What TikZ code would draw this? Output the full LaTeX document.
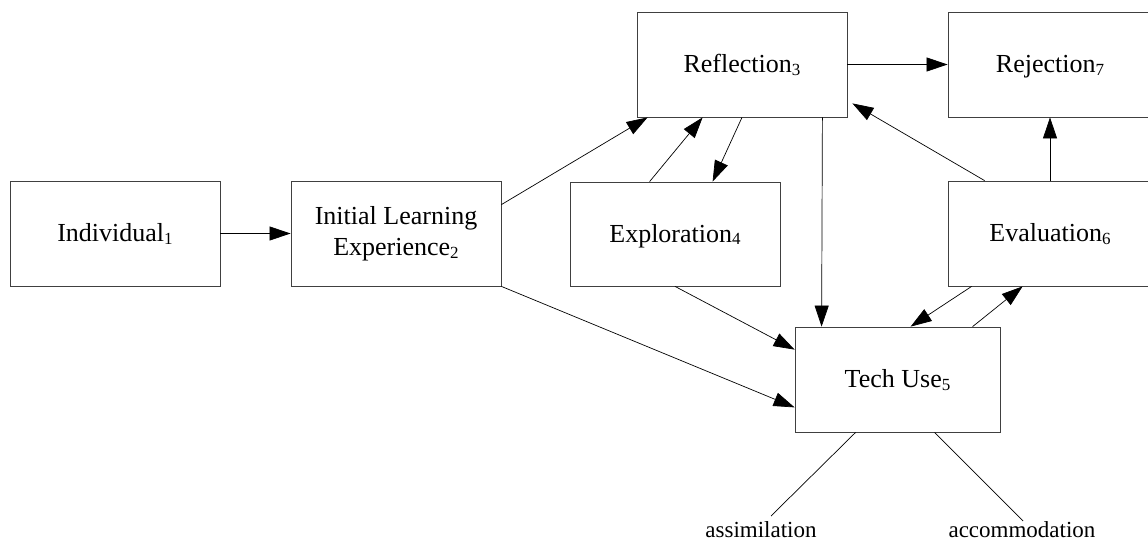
\documentclass[tikz,border=0pt]{standalone}
\usepackage{fontspec}
\setmainfont{Liberation Serif}
\usetikzlibrary{arrows.meta}
\newcommand\ix[1]{\raisebox{-0.25ex}{\fontsize{17}{17}\selectfont #1}}
\tikzset{
  box/.style={draw=black!75, line width=0.8pt, rectangle, minimum width=210pt,
              minimum height=105pt, inner sep=0pt, align=center,
              font=\fontsize{26}{31}\selectfont},
  oneline/.style={box, text height=19pt, text depth=3pt},
  link/.style={draw=black, line width=0.7pt, -{Triangle[length=21pt,width=14pt]}},
  plain/.style={draw=black, line width=0.7pt},
  tag/.style={inner sep=0pt, font=\fontsize{23}{28}\selectfont},
}
\begin{document}
\begin{tikzpicture}[x=1pt,y=-1pt]
\useasboundingbox (0,0) rectangle (1148,541);
% stage boxes
\node[oneline] (ind)  at (115,233.5)  {Individual\ix{1}};
\node[box] (ile)  at (396,233.5)  {Initial Learning\\Experience\ix{2}};
\node[oneline] (refl) at (742,64.5)   {Reflection\ix{3}};
\node[oneline, minimum width=204pt] (rej)  at (1050,64.5)  {Rejection\ix{7}};
\node[oneline, minimum height=104pt] (expl) at (675,234) {Exploration\ix{4}};
\node[oneline, minimum width=204pt] (eval) at (1050,233.5) {Evaluation\ix{6}};
\node[oneline, minimum width=205pt] (tech) at (897.5,379.5) {Tech Use\ix{5}};
% outcome labels
\node[tag, anchor=base] (assim) at (761,537)  {assimilation};
\node[tag, anchor=base] (accom) at (1022,537) {accommodation};
\coordinate (assimEnd) at (771,516);
\coordinate (accomEnd) at (1023,521);
% connectors
\draw[link] (ind.east) -- (ile.west);
\draw[link] ([yshift=-24pt]ile.north east) -- ([xshift=11pt]refl.south west);
\draw[link] (ile.south east) -- ([yshift=25pt]tech.south west);
\draw[link] ([xshift=80pt]expl.north west) -- ([xshift=66pt]refl.south west);
\draw[link] (refl.south) -- ([xshift=143pt]expl.north west);
\draw[link] (expl.south) -- ([yshift=-23pt]tech.north west);
\draw[link] ([xshift=-25pt]refl.south east) -- ([xshift=27pt]tech.north west);
\draw[link] (refl.east) -- (rej.west);
\draw[link] ([xshift=37pt]eval.north west) -- ([xshift=5pt,yshift=14pt]refl.south east);
\draw[link] (eval.north) -- (rej.south);
\draw[link] ([xshift=24pt]eval.south west) -- ([xshift=116pt]tech.north west);
\draw[link] ([xshift=178pt]tech.north west) -- ([xshift=75pt]eval.south west);
\draw[plain] ([xshift=61pt]tech.south west) -- (assimEnd);
\draw[plain] ([xshift=140pt]tech.south west) -- (accomEnd);
\end{tikzpicture}
\end{document}
